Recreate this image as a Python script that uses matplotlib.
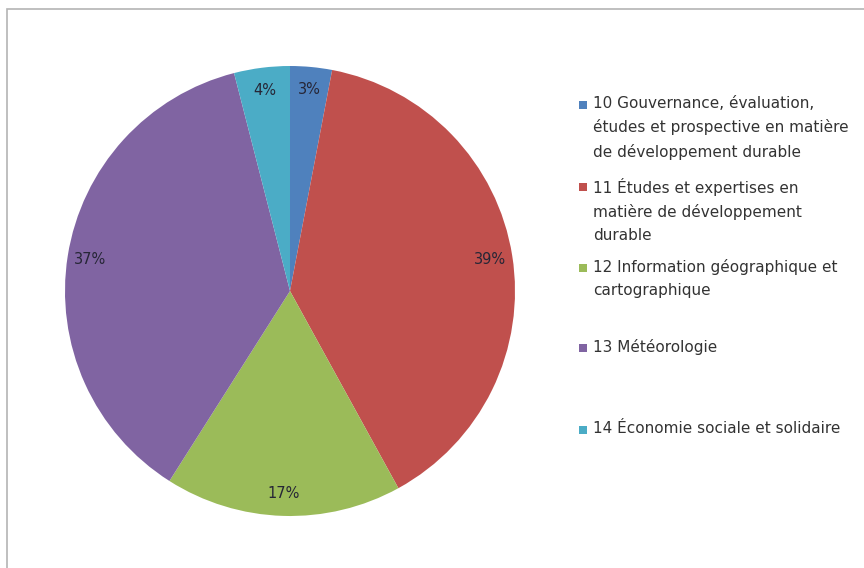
import matplotlib.pyplot as plt
from matplotlib.patches import Rectangle

# Répartition par action (en %)
labels = [
    "10 Gouvernance, évaluation,\nétudes et prospective en matière\nde développement durable",
    "11 Études et expertises en\nmatière de développement\ndurable",
    "12 Information géographique et\ncartographique",
    "13 Météorologie",
    "14 Économie sociale et solidaire",
]
values = [3, 39, 17, 37, 4]
colors = ["#4F81BD", "#C0504D", "#9BBB59", "#8064A2", "#4BACC6"]

plt.rcParams['font.family'] = ['DejaVu Sans']

W, H = 864, 568
fig = plt.figure(figsize=(W / 100, H / 100), dpi=100)
fig.patch.set_facecolor('white')

# chart frame (cut off at right and bottom as in the source)
fig.add_artist(Rectangle((7 / W, -0.1), 1.2, (H - 9) / H + 0.1,
                         transform=fig.transFigure, fill=False,
                         edgecolor='#b4b4b4', linewidth=1.2))

# pie area: centre (290, 291) px, radius 225 px
cx, cy, r = 290, 291, 225
ax = fig.add_axes([(cx - r) / W, (H - cy - r) / H, 2 * r / W, 2 * r / H])
ax.pie(values, colors=colors, startangle=90, counterclock=False,
       autopct='%1.0f%%', pctdistance=0.9, radius=1.0,
       wedgeprops=dict(linewidth=0),
       textprops=dict(fontsize=10.5, color='#262636'))
ax.set_xlim(-1, 1)
ax.set_ylim(-1, 1)
ax.set_aspect('equal')
ax.axis('off')

# legend, drawn by hand to keep Excel's spacing
tops = [105, 187, 268, 348, 430]
for lab, col, top in zip(labels, colors, tops):
    fig.add_artist(Rectangle((579 / W, (H - top - 4) / H), 8 / W, 8 / H,
                             transform=fig.transFigure, facecolor=col,
                             edgecolor='none'))
    fig.text(593 / W, (H - top + 9) / H, lab, fontsize=11, color='#333333',
             va='top', ha='left', linespacing=1.64)

fig.savefig('out.png', dpi=100)
